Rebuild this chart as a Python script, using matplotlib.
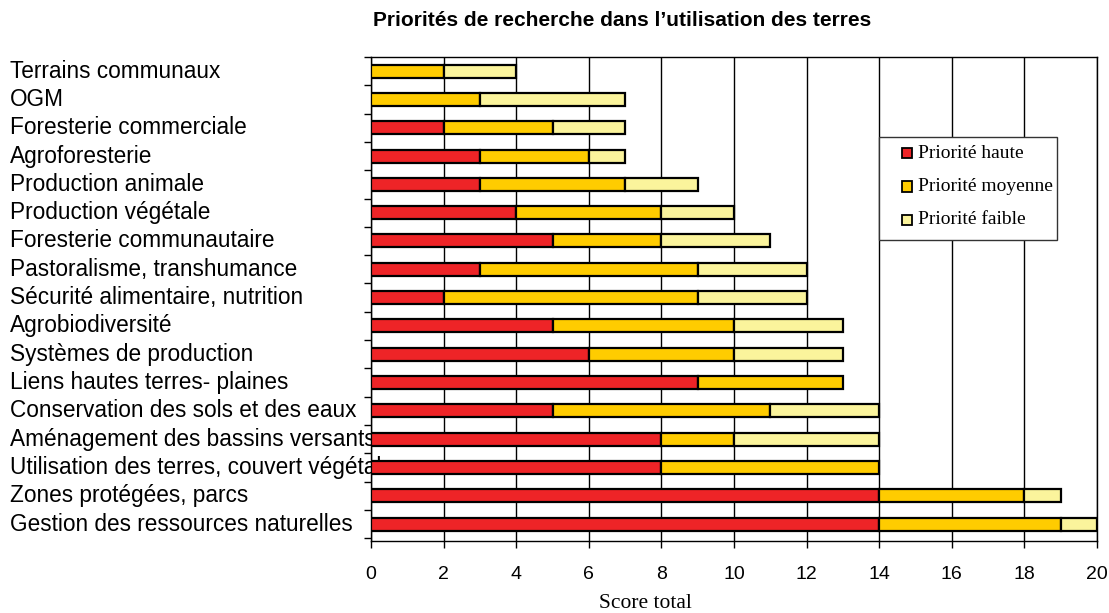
import matplotlib
matplotlib.use("Agg")
import matplotlib.pyplot as plt
import numpy as np
from matplotlib.patches import Rectangle

categories = [
    "Terrains communaux",
    "OGM",
    "Foresterie commerciale",
    "Agroforesterie",
    "Production animale",
    "Production végétale",
    "Foresterie communautaire",
    "Pastoralisme, transhumance",
    "Sécurité alimentaire, nutrition",
    "Agrobiodiversité",
    "Systèmes de production",
    "Liens hautes terres- plaines",
    "Conservation des sols et des eaux",
    "Aménagement des bassins versants",
    "Utilisation des terres, couvert végétal",
    "Zones protégées, parcs",
    "Gestion des ressources naturelles",
]
haute = [0, 0, 2, 3, 3, 4, 5, 3, 2, 5, 6, 9, 5, 8, 8, 14, 14]
moyenne = [2, 3, 3, 3, 4, 4, 3, 6, 7, 5, 4, 4, 6, 2, 6, 4, 5]
faible = [2, 4, 2, 1, 2, 2, 3, 3, 3, 3, 3, 0, 3, 4, 0, 1, 1]
series_names = ["Priorité haute", "Priorité moyenne", "Priorité faible"]
colors = ["#EE2427", "#FFCC00", "#FBF49C"]
xticks = list(range(0, 21, 2))

W, H = 1109, 613
fig = plt.figure(figsize=(W / 100, H / 100), dpi=100)
ax = fig.add_axes([371 / W, 1 - 541 / H, (1097 - 371) / W, (541 - 57) / H])

y = np.arange(len(categories))
h = np.array(haute)
m = np.array(moyenne)
f = np.array(faible)
bh = 0.46
for vals, left, c in [(h, 0, colors[0]), (m, h, colors[1]), (f, h + m, colors[2])]:
    mask = vals > 0
    ax.barh(y[mask], vals[mask], left=(np.zeros_like(vals) + left)[mask], height=bh,
            color=c, edgecolor="black", linewidth=1.6, zorder=3)

ax.set_xlim(0, 20)
ax.set_ylim(len(categories) - 0.4, -0.5)
ax.set_xticks(xticks)
ax.set_xticklabels([str(t) for t in xticks], fontsize=14, family="Liberation Sans")
ax.tick_params(axis="x", length=5, width=1, pad=13, direction="out")
ax.set_yticks(np.arange(len(categories) + 1) - 0.5)
ax.set_yticklabels([])
ax.tick_params(axis="y", length=5, width=1, direction="out")
ax.grid(axis="x", color="black", linewidth=1, zorder=0)
ax.set_axisbelow(True)
for s in ax.spines.values():
    s.set_linewidth(1)
    s.set_color("black")

trans = matplotlib.transforms.blended_transform_factory(fig.transFigure, ax.transData)
for i, cat in enumerate(categories):
    ax.text(10 / W, i, cat, transform=trans, ha="left", va="center", fontsize=16.3,
            family="Liberation Sans", clip_on=False, zorder=2)

fig.text(622 / W, 1 - 21 / H, "Priorités de recherche dans l’utilisation des terres",
         ha="center", va="center", fontsize=15, fontweight="bold", family="Liberation Sans")
fig.text(645 / W, 1 - 603 / H, "Score total", ha="center", va="center", fontsize=15.5,
         family="Liberation Serif")

# legend box drawn in figure pixel coordinates
def fx(px):
    return px / W

def fy(py):
    return 1 - py / H

fig.patches.append(Rectangle((fx(879), fy(240)), fx(1057) - fx(879), fy(137) - fy(240),
                             transform=fig.transFigure, facecolor="white",
                             edgecolor="#333333", linewidth=1, zorder=5))
for k, (name, c) in enumerate(zip(series_names, colors)):
    yc = 153 + k * 33.5
    fig.patches.append(Rectangle((fx(902), fy(yc + 5)), fx(912) - fx(902), fy(yc - 5) - fy(yc + 5),
                                 transform=fig.transFigure, facecolor=c,
                                 edgecolor="black", linewidth=1.3, zorder=6))
    fig.text(fx(918), fy(yc), name, ha="left", va="center", fontsize=14,
             family="Liberation Serif", zorder=7)

fig.savefig("out.png", dpi=100)
